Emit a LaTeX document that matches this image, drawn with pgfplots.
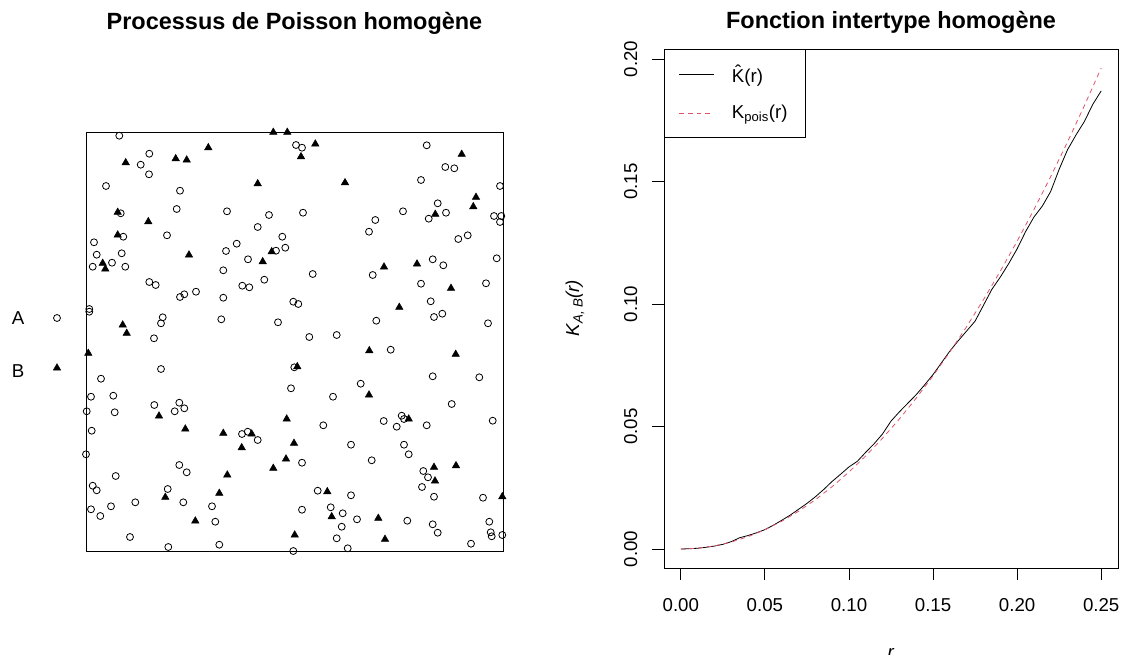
\documentclass[border=0pt]{standalone}
\usepackage{fontspec}
\setmainfont{Liberation Sans}
\usepackage{pgfplots}
\pgfplotsset{compat=1.18}
\definecolor{rred}{HTML}{DF536B}
\begin{document}
\begin{tikzpicture}
\path[use as bounding box] (0pt,0pt) rectangle (843pt,-491.25pt);
\begin{axis}[
 at={(64.5pt,-99pt)}, anchor=north west, scale only axis,
 width=312.75pt, height=314.25pt,
 xmin=86,xmax=503,ymin=132,ymax=551,y dir=reverse,
 xtick=\empty, ytick=\empty, clip=false, axis line style={line width=0.6pt},
 title={\fontsize{17.6}{19}\selectfont\bfseries Processus de Poisson homogène},
 title style={at={(0.5,1)},anchor=base,yshift=71pt},
]
\addplot[only marks, mark=o, mark size=2.6pt, mark options={line width=0.6pt}] coordinates {
(119.3,135.7)(149.3,153.7)(140.7,164.7)(149,174.3)(106,186)(180,190.7)(176.7,209)(120.7,213.3)
(227,211.3)(269,215)(257.7,227)(167,235.3)(123.3,236.7)(94,242.3)(282.3,236.7)(236.7,243.7)
(96.7,254.7)(121.7,253.3)(226,251)(285.3,247.7)(276,250.7)(92.7,266.7)(112,262.7)(125.3,266.7)
(248,259.3)(223.3,270.3)(264.3,279.7)(149.3,282)(155.7,285)(242.3,285.7)(249.3,287.3)(196,291.7)
(184.3,294.3)(180,297)(223.3,297.7)(89.3,309)(89.3,311.7)(162.7,317.3)(161,323.3)(221.3,319.3)
(278,322.3)(154,338.3)
(296,145)(302,147.7)(426.7,145.3)(445.3,167)(454.3,168.3)(421,180)(500,186)(437.7,203.3)
(303,212.7)(403,211.3)(446,212.7)(428.7,218.7)(375.3,220)(494,216)(501.3,216)(500,222)
(369,231.7)(458.3,239)(467.7,235.3)(432.7,259.3)(443.3,265.3)(496.7,258.3)(312.7,274)(372.7,275)
(421,283.7)(486,283.3)(293.3,301.7)(298.3,304)(430.7,301.3)(434,317)(442.3,313.7)(376.3,320.7)
(488,323.3)(309.3,337)(336.7,335)
(161,369)(101,378.7)(91,396.7)(113.3,395.7)(86.7,411.3)(114.7,412.3)(154.3,405)(179.3,402.7)
(174.7,411.3)(184.3,408.3)(91.7,430.7)(86,454.3)(179.3,465)(186.7,472.3)(115.7,476)(92.7,485.7)
(96.7,490.3)(167.7,489)(183.3,502.3)(135.3,502.3)(91,509.3)(111,506.3)(100.3,516)(212,506.3)
(215.3,521.7)(130,537)(168.3,547)(219.3,544.7)(242,434)(247.7,431.7)(257.7,440)(291,388.3)
(294.3,367.3)
(390.7,349.7)(432.7,376.3)(479.3,377.3)(360.7,383.7)(333,396.7)(451.7,404)(401.7,415.7)(404,419)
(383.7,421)(396.7,426.7)(426.7,425.3)(323.3,425.3)(492.7,420.7)(351,444.7)(404,444.7)(408.7,454.3)
(302,462.7)(371.7,460.3)(423.3,471)(428,477.3)(422,487)(434,496.7)(483,497.7)(317.7,490.7)
(351,495.3)(302,509.7)(330.7,507.3)(342.7,513.3)(357,519.3)(407.3,520.7)(341.7,526.7)(336.7,538.3)
(347.7,548.3)(432.7,524.3)(437.7,532.7)(489.3,521.7)(490.7,532.3)(491.7,536.3)(502.3,535)(471,543.7)
(293.3,551)
};
\addplot[only marks, mark=triangle*, mark size=3.2pt] coordinates {
(273.3,132.3)(287.3,132.3)(208.3,147.7)(125.7,162.7)(175.7,158.7)(186.7,160)(257.7,183.7)(117.7,212.3)
(148.3,221.7)(117.7,235)(189,255)(271.7,251.7)(262.7,261.7)(102.7,263.3)(105.3,269)(122.7,325)
(126.7,333.3)(315.3,144)(301,156.7)(461.7,154.3)(345,182.7)(476,197.3)(473.3,206.7)(435.3,214.3)
(384,267)(417,264)(451,288.3)(399.3,307.3)(88.3,353.3)(159,416)(185.3,429)(223.3,433.3)
(251.7,434)(241.7,447.7)(286.7,419)(294,443.3)(286,459)(273.3,468.3)(227.3,475)(219.3,493.3)
(165.3,497.3)(195.3,521)(294.7,535)(369.3,350.7)(455.7,354.3)(297.3,366.7)(369,395)(408.7,419)
(434,467.3)(456,465.7)(435,481)(327.3,491.7)(331.7,516.7)(378.3,518.3)(502.3,496.7)(385,539.3)
};
\addplot[only marks, mark=o, mark size=2.6pt, mark options={line width=0.6pt}] coordinates {(57,318)};
\addplot[only marks, mark=triangle*, mark size=3.2pt] coordinates {(57,368)};
\node[font=\fontsize{14}{15}\selectfont] at (axis cs:18,318) {A};
\node[font=\fontsize{14}{15}\selectfont] at (axis cs:18,371) {B};
\end{axis}
\begin{axis}[
 at={(498pt,-36.75pt)}, anchor=north west, scale only axis,
 width=340.5pt, height=389.25pt,
 xmin=-0.01,xmax=0.26,ymin=-0.00776,ymax=0.2041,
 axis line style={line width=0.6pt},
 every tick/.style={black, line width=0.6pt},
 tick align=outside, major tick length=9pt,
 xtick pos=bottom, ytick pos=left,
 xtick={0,0.05,0.1,0.15,0.2,0.25},
 xticklabels={0.00,0.05,0.10,0.15,0.20,0.25},
 ytick={0,0.05,0.1,0.15,0.2},
 yticklabels={0.00,0.05,0.10,0.15,0.20},
 ticklabel style={font=\fontsize{14}{15}\selectfont},
 xticklabel style={yshift=-10pt},
 yticklabel style={rotate=90, anchor=south, yshift=7.5pt},
 xlabel={\textit{r}}, ylabel={\textit{K}\raisebox{-0.35ex}{\fontsize{10}{11}\selectfont\textit{A, B}}\textit{(r)}},
 xlabel style={yshift=-21pt},
 ylabel style={yshift=23pt},
 label style={font=\fontsize{14}{15}\selectfont},
 title={\fontsize{17.6}{19}\selectfont\bfseries Fonction intertype homogène},
 title style={at={(0.5,1)},anchor=base,yshift=9pt},
 legend style={at={(0,1)}, anchor=north west, draw=black, line width=0.6pt,
   font=\fontsize{14}{15}\selectfont, row sep=12pt, inner xsep=11pt, inner ysep=10pt,
   /tikz/every odd column/.append style={column sep=11pt}},
 legend cell align=left,
 legend image code/.code={\draw[#1, line width=0.6pt] (0pt,0pt) -- (26pt,0pt);},
]
\addplot[black, line width=0.6pt] coordinates {
(0,0)(0.005,0.0001)(0.010,0.0003)(0.015,0.0007)(0.020,0.0012)(0.025,0.0019)(0.030,0.0030)(0.035,0.0046)
(0.040,0.0055)(0.045,0.0066)(0.050,0.0079)(0.055,0.0097)(0.060,0.0117)(0.065,0.0138)(0.070,0.0162)
(0.075,0.0186)(0.080,0.0213)(0.085,0.0243)(0.090,0.0276)(0.095,0.0305)(0.100,0.0335)(0.105,0.0358)
(0.110,0.0395)(0.115,0.0430)(0.120,0.0470)(0.125,0.0522)(0.130,0.0560)(0.135,0.0595)(0.140,0.0630)
(0.145,0.0670)(0.150,0.0712)(0.155,0.0760)(0.160,0.0808)(0.165,0.0850)(0.170,0.0890)(0.175,0.0930)
(0.180,0.0995)(0.185,0.1060)(0.190,0.1110)(0.195,0.1165)(0.200,0.1225)(0.205,0.1295)(0.210,0.1355)
(0.215,0.1400)(0.220,0.1460)(0.225,0.1550)(0.230,0.1630)(0.235,0.1690)(0.240,0.1745)(0.245,0.1815)
(0.250,0.1870)
};
\addlegendentry{\^{K}(r)}
\addplot[rred, dash pattern=on 3.5pt off 3pt, line width=0.6pt] coordinates {
(0,0)(0.01,0.000314)(0.02,0.001257)(0.03,0.002827)(0.04,0.005027)(0.05,0.007854)(0.06,0.011310)
(0.07,0.015394)(0.08,0.020106)(0.09,0.025447)(0.10,0.031416)(0.11,0.038013)(0.12,0.045239)
(0.13,0.053093)(0.14,0.061575)(0.15,0.070686)(0.16,0.080425)(0.17,0.090792)(0.18,0.101788)
(0.19,0.113411)(0.20,0.125664)(0.21,0.138544)(0.22,0.152053)(0.23,0.166190)(0.24,0.180956)
(0.25,0.196350)
};
\addlegendentry{K\textsubscript{pois}(r)}
\end{axis}
\end{tikzpicture}
\end{document}
